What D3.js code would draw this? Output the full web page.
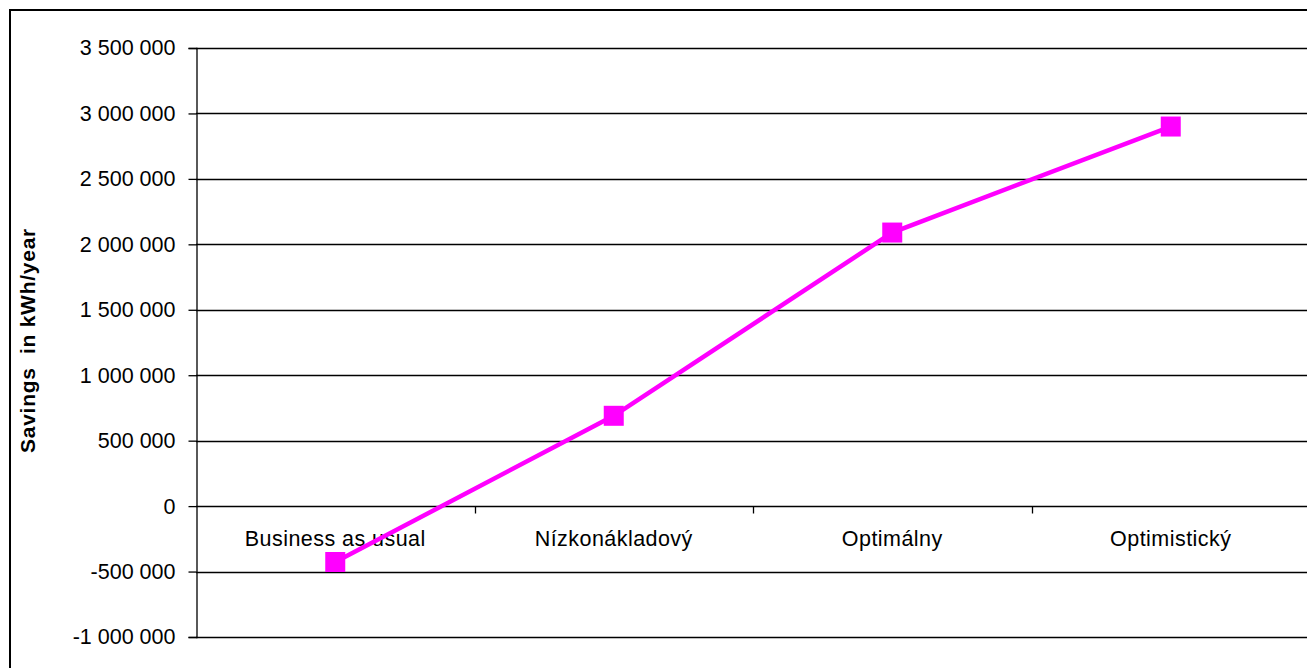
<!DOCTYPE html>
<html>
<head>
<meta charset="utf-8">
<script src="https://cdn.jsdelivr.net/npm/d3@7"></script>
<style>
  html, body { margin: 0; padding: 0; background: #fff; }
  svg { display: block; }
  text { font-family: "Liberation Sans", Arial, sans-serif; fill: #000; }
</style>
</head>
<body>
<script>
// Scenario names and annual savings (kWh/year)
const scenarios = ["Business as usual", "Nízkonákladový", "Optimálny", "Optimistický"];
const savings = [-427000, 690000, 2090000, 2900000];
const yTicks = [-1000000, -500000, 0, 500000, 1000000, 1500000, 2000000, 2500000, 3000000, 3500000];
const yTitle = "Savings  in kWh/year";

const W = 1307, H = 668;
const plot = { left: 196, top: 48, right: 1310, bottom: 637 };
const FONT = '"Liberation Sans", Arial, sans-serif';

const svg = d3.select("body").append("svg")
  .attr("width", W).attr("height", H);

// outer chart frame
svg.append("rect")
  .attr("x", 10).attr("y", 10)
  .attr("width", W + 20).attr("height", H + 20)
  .attr("fill", "none").attr("stroke", "#000").attr("stroke-width", 2);

const x = d3.scaleBand().domain(scenarios).range([plot.left, plot.right]);
const y = d3.scaleLinear().domain([-1000000, 3500000]).range([plot.bottom, plot.top]);

// thousands separated by spaces, plain hyphen for negatives
const fmt = v => d3.format(",")(v).replace(/,/g, " ").replace("\u2212", "-");

// horizontal gridlines
svg.append("g").selectAll("line").data(yTicks).join("line")
  .attr("x1", plot.left).attr("x2", plot.right)
  .attr("y1", d => Math.round(y(d)) + 0.5).attr("y2", d => Math.round(y(d)) + 0.5)
  .attr("stroke", "#000").attr("stroke-width", 1.3);

// value axis
const yAxis = svg.append("g")
  .attr("transform", `translate(${plot.left + 0.5},0)`)
  .call(d3.axisLeft(y).tickValues(yTicks).tickFormat(fmt).tickSize(8).tickPadding(13));
yAxis.select(".domain").attr("stroke", "#000").attr("stroke-width", 1.3);
yAxis.selectAll(".tick line").attr("stroke", "#000").attr("stroke-width", 1.3);
yAxis.selectAll(".tick text")
  .style("font-family", FONT)
  .style("font-size", "21.5px")
  .attr("fill", "#000");

// category axis sits on the zero line, with tick marks between categories
const zeroY = Math.round(y(0)) + 0.5;
const bounds = scenarios.slice(1).map(s => x(s));
svg.append("g").selectAll("line").data(bounds).join("line")
  .attr("x1", d => Math.round(d) + 0.5).attr("x2", d => Math.round(d) + 0.5)
  .attr("y1", zeroY).attr("y2", zeroY + 7)
  .attr("stroke", "#000").attr("stroke-width", 1.3);

svg.append("g").selectAll("text").data(scenarios).join("text")
  .attr("x", d => x(d) + x.bandwidth() / 2)
  .attr("y", zeroY + 39.5)
  .attr("text-anchor", "middle")
  .style("font-size", "21.5px")
  .style("letter-spacing", "0.45px")
  .text(d => d);

// series line and square markers
const pts = scenarios.map((s, i) => [x(s) + x.bandwidth() / 2, y(savings[i])]);
svg.append("path")
  .attr("d", d3.line()(pts))
  .attr("fill", "none").attr("stroke", "#ff00ff").attr("stroke-width", 4.5);

svg.append("g").selectAll("rect").data(pts).join("rect")
  .attr("x", d => d[0] - 10).attr("y", d => d[1] - 10)
  .attr("width", 20).attr("height", 20)
  .attr("fill", "#ff00ff");

// value axis title
svg.append("text")
  .attr("transform", "translate(34.5,340.5) rotate(-90)")
  .attr("text-anchor", "middle")
  .style("font-size", "21px").style("font-weight", "bold")
  .style("letter-spacing", "0.75px")
  .style("white-space", "pre")
  .text(yTitle);
</script>
</body>
</html>
